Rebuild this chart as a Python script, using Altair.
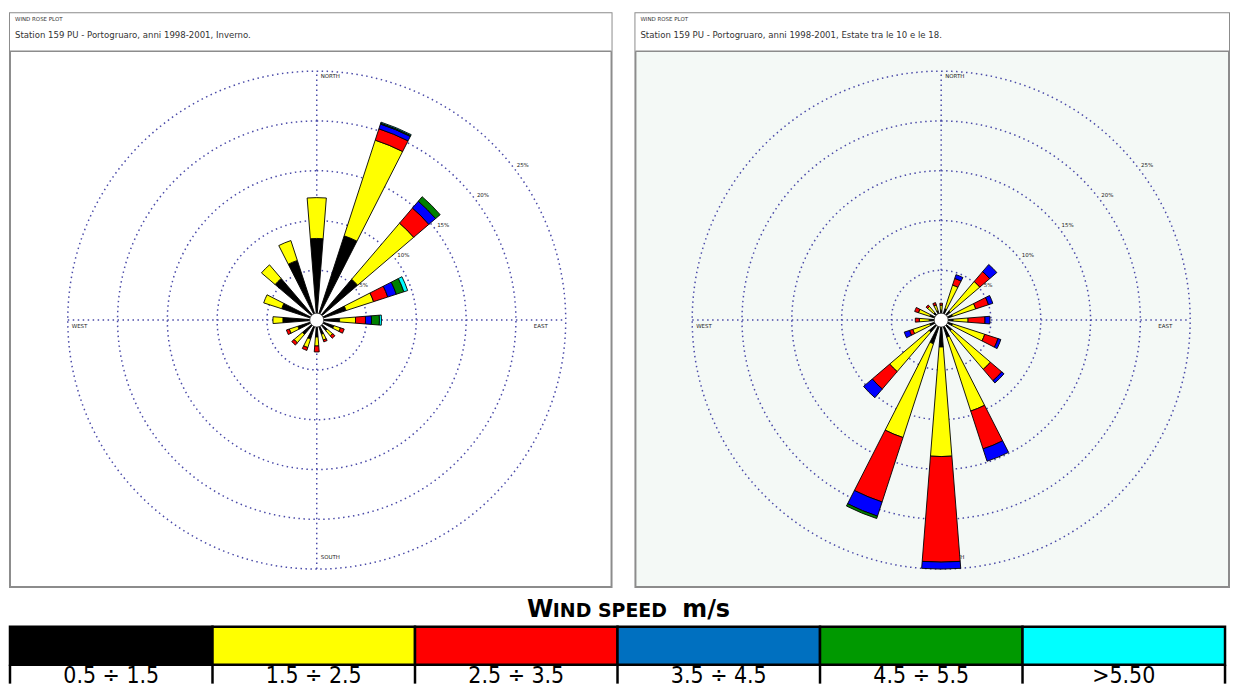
import altair as alt
import pandas as pd

# ---------------------------------------------------------------- data
DIRECTIONS = ["N", "NNE", "NE", "ENE", "E", "ESE", "SE", "SSE",
              "S", "SSW", "SW", "WSW", "W", "WNW", "NW", "NNW"]
SPEED_CLASSES = ["0.5 ÷ 1.5", "1.5 ÷ 2.5", "2.5 ÷ 3.5", "3.5 ÷ 4.5", "4.5 ÷ 5.5", ">5.50"]
ROSE_COLORS = ["#000000", "#FFFF00", "#FF0000", "#0000FF", "#008000", "#00FFFF"]
LEGEND_COLORS = ["#000000", "#FFFF00", "#FF0000", "#0070C0", "#009900", "#00FFFF"]
RING_VALUES = [5, 10, 15, 20, 25]
RING_LABELS = ["5%", "10%", "15%", "20%", "25%"]
COMPASS = ["NORTH", "EAST", "SOUTH", "WEST"]

PLOT_NAME = "WIND ROSE PLOT"
WINTER_TITLE = "Station 159 PU - Portogruaro, anni 1998-2001, Inverno."
SUMMER_TITLE = "Station 159 PU - Portogruaro, anni 1998-2001, Estate tra le 10 e le 18."
LEGEND_TITLE = ["W", "IND SPEED", "m/s"]

# Winter (Inverno): frequency (%) per direction, one list per speed class
winter_05_15 = [8.2, 8.9, 5.4, 3.1, 2.3, 1.8, 1.4, 1.5, 1.7, 2.0, 1.9, 2.0, 3.4, 3.7, 5.5, 6.3]
winter_15_25 = [4.1, 10.1, 7.4, 2.9, 1.6, 0.7, 0.7, 0.6, 0.9, 0.9, 1.1, 0.9, 1.0, 1.9, 1.8, 2.1]
winter_25_35 = [0.0, 1.2, 2.0, 1.5, 1.0, 0.4, 0.3, 0.2, 0.6, 0.3, 0.3, 0.3, 0.0, 0.0, 0.0, 0.0]
winter_35_45 = [0.0, 0.5, 0.9, 0.9, 0.6, 0.0, 0.0, 0.0, 0.0, 0.0, 0.0, 0.0, 0.0, 0.0, 0.0, 0.0]
winter_45_55 = [0.0, 0.1, 0.6, 0.8, 0.8, 0.0, 0.0, 0.0, 0.0, 0.0, 0.0, 0.0, 0.0, 0.0, 0.0, 0.0]
winter_55 = [0.0, 0.1, 0.0, 0.4, 0.2, 0.0, 0.0, 0.0, 0.0, 0.0, 0.0, 0.0, 0.0, 0.0, 0.0, 0.0]

# Summer 10-18 (Estate): frequency (%) per direction, one list per speed class
summer_05_15 = [1.0, 1.2, 1.2, 1.2, 1.2, 1.2, 1.4, 1.8, 2.7, 2.5, 1.6, 1.2, 1.2, 1.2, 1.0, 1.0]
summer_15_25 = [0.5, 2.5, 3.9, 2.45, 1.5, 3.4, 5.1, 7.8, 11.0, 9.9, 5.2, 1.8, 1.0, 1.2, 0.8, 0.6]
summer_25_35 = [0.2, 0.7, 1.3, 1.35, 1.7, 1.4, 1.5, 4.0, 10.6, 6.8, 2.3, 0.35, 0.4, 0.4, 0.2, 0.25]
summer_35_45 = [0.0, 0.4, 0.95, 0.45, 0.5, 0.3, 0.3, 1.3, 0.7, 1.5, 1.15, 0.55, 0.0, 0.0, 0.0, 0.0]
summer_45_55 = [0.0, 0.0, 0.0, 0.0, 0.0, 0.0, 0.0, 0.0, 0.0, 0.25, 0.0, 0.0, 0.0, 0.0, 0.0, 0.0]
summer_55 = [0.0, 0.0, 0.0, 0.0, 0.0, 0.0, 0.0, 0.0, 0.0, 0.0, 0.0, 0.0, 0.0, 0.0, 0.0, 0.0]

WINTER = [winter_05_15, winter_15_25, winter_25_35, winter_35_45, winter_45_55, winter_55]
SUMMER = [summer_05_15, summer_15_25, summer_25_35, summer_35_45, summer_45_55, summer_55]

# ---------------------------------------------------------------- layout / style
PX = 10.0            # pixels per percent
HALF_W = 4.5         # half angular width of a wedge, degrees
CALM_R = 0.7         # radius of the calm circle, percent
TITLE_H = 38
RING_COLOR = "#4a4aa8"
FONT = "DejaVu Sans"

R_MAX = RING_VALUES[-1]
theta_scale = alt.Scale(domain=[0, 360], range=[0, 6.283185307179586])
radius_scale = alt.Scale(type="linear", domain=[0, R_MAX], range=[0, R_MAX * PX], zero=True, nice=False)


def wedge_table(classes):
    rows = []
    for i, d in enumerate(DIRECTIONS):
        ang = i * 360.0 / len(DIRECTIONS)
        start = 0.0
        for cls, vals in zip(SPEED_CLASSES, classes):
            v = vals[i]
            if v <= 0:
                continue
            rows.append({"direction": d, "cls": cls, "t0": ang - HALF_W, "t1": ang + HALF_W,
                         "r0": start, "r1": start + v})
            start += v
    return pd.DataFrame(rows)


def th(field=None, datum=None):
    if datum is not None:
        return alt.Theta(datum=datum, type="quantitative", scale=theta_scale, stack=False)
    return alt.Theta(field, type="quantitative", scale=theta_scale, stack=False)


def rad(field=None, datum=None):
    if datum is not None:
        return alt.Radius(datum=datum, type="quantitative", scale=radius_scale, stack=False)
    return alt.Radius(field, type="quantitative", scale=radius_scale, stack=False)


def panel(classes, title, width, height, cx, cy, bg):
    xs = alt.Scale(domain=[-cx / PX, (width - cx) / PX], nice=False, zero=False)
    ys = alt.Scale(domain=[-(height - cy) / PX, cy / PX], nice=False, zero=False)
    cxe = alt.X(datum=0, type="quantitative", scale=xs, axis=None)
    cye = alt.Y(datum=0, type="quantitative", scale=ys, axis=None)
    one = pd.DataFrame({"k": [0]})

    title_bg = alt.Chart(one).mark_rect(fill="white").encode(
        x=alt.value(0), x2=alt.value(width), y=alt.value(0), y2=alt.value(TITLE_H))
    sep = alt.Chart(one).mark_rule(color="#8c8c8c", strokeWidth=1.5).encode(
        x=alt.value(0), x2=alt.value(width), y=alt.value(TITLE_H))
    t1 = alt.Chart(one).mark_text(text=PLOT_NAME, align="left", baseline="middle",
                                  fontSize=5.5, font=FONT, color="#333").encode(
        x=alt.value(5), y=alt.value(6))
    t2 = alt.Chart(one).mark_text(text=title, align="left", baseline="middle",
                                  fontSize=8.6, font=FONT, color="#333").encode(
        x=alt.value(5), y=alt.value(22))

    rings = alt.Chart(pd.DataFrame({"r": RING_VALUES})).mark_arc(
        fillOpacity=0, stroke=RING_COLOR, strokeWidth=1.5, strokeDash=[1.5, 3.5]).encode(
        theta=th(datum=0), theta2=alt.Theta2(datum=360), radius=rad("r"), x=cxe, y=cye)

    cross_df = pd.DataFrame({"x": [-R_MAX, 0], "x2": [R_MAX, 0], "y": [0, -R_MAX], "y2": [0, R_MAX]})
    cross = alt.Chart(cross_df).mark_rule(color=RING_COLOR, strokeWidth=1.5, strokeDash=[1.5, 3.5]).encode(
        x=alt.X("x:Q", scale=xs, axis=None), x2="x2:Q",
        y=alt.Y("y:Q", scale=ys, axis=None), y2="y2:Q")

    wedges = alt.Chart(wedge_table(classes)).mark_arc(stroke="black", strokeWidth=0.9).encode(
        theta=th("t0"), theta2="t1:Q", radius=rad("r1"), radius2="r0:Q",
        color=alt.Color("cls:N", scale=alt.Scale(domain=SPEED_CLASSES, range=ROSE_COLORS), legend=None),
        x=cxe, y=cye)

    calm = alt.Chart(one).mark_arc(fill="white", stroke="#222", strokeWidth=0.7).encode(
        theta=th(datum=0), theta2=alt.Theta2(datum=360), radius=rad(datum=CALM_R), x=cxe, y=cye)

    lab_df = pd.DataFrame({"label": RING_LABELS, "rl": [r + 0.9 for r in RING_VALUES],
                           "a": [53] * len(RING_VALUES)})
    ring_labels = alt.Chart(lab_df).mark_text(fontSize=5.5, font=FONT, color="#222").encode(
        theta=th("a"), radius=rad("rl"), text="label:N", x=cxe, y=cye)

    comp_df = pd.DataFrame({
        "label": COMPASS,
        "x": [0.4, R_MAX - 3.2, 0.4, -R_MAX + 0.4],
        "y": [R_MAX - 0.5, -0.6, -R_MAX + 1.2, -0.6],
    })
    compass = alt.Chart(comp_df).mark_text(fontSize=5.5, font=FONT, color="#222",
                                           align="left", baseline="middle").encode(
        x=alt.X("x:Q", scale=xs, axis=None), y=alt.Y("y:Q", scale=ys, axis=None), text="label:N")

    return alt.layer(title_bg, rings, cross, compass, ring_labels, wedges, calm, sep, t1, t2).properties(
        width=width, height=height,
        view=alt.ViewBackground(fill=bg, stroke="#8c8c8c", strokeWidth=2))


left = panel(WINTER, WINTER_TITLE, 604, 576, 308, 308, "white")
right = panel(SUMMER, SUMMER_TITLE, 596, 576, 307, 308, "#F4F9F6")

# ---------------------------------------------------------------- legend table
LEG_W = 1220
LEG_H = 92
ROW_TOP = 35
ROW_MID = 73
leg_df = pd.DataFrame({"cls": SPEED_CLASSES})
band = alt.Scale(domain=SPEED_CLASSES, paddingInner=0, paddingOuter=0)
bx = alt.X("cls:N", scale=band, axis=None)

cells = alt.Chart(leg_df).mark_rect(fill="white").encode(
    x=bx, y=alt.value(ROW_MID), y2=alt.value(LEG_H))
seps = alt.Chart(leg_df).mark_rule(color="black", strokeWidth=2.5).encode(
    x=alt.X("cls:N", scale=band, axis=None, bandPosition=0),
    y=alt.value(ROW_MID), y2=alt.value(LEG_H))
edge = alt.Chart(pd.DataFrame({"k": [0]})).mark_rule(color="black", strokeWidth=2.5).encode(
    x=alt.value(LEG_W), y=alt.value(ROW_MID), y2=alt.value(LEG_H))
swatch = alt.Chart(leg_df).mark_rect(stroke="black", strokeWidth=2.5).encode(
    x=bx, y=alt.value(ROW_TOP), y2=alt.value(ROW_MID),
    fill=alt.Fill("cls:N", scale=alt.Scale(domain=SPEED_CLASSES, range=LEGEND_COLORS), legend=None))
labels = alt.Chart(leg_df).mark_text(fontSize=23, font="DejaVu Sans Condensed, DejaVu Sans",
                                     baseline="alphabetic", color="black").encode(
    x=bx, y=alt.value(91), text="cls:N")

one = pd.DataFrame({"k": [0]})
title_w = alt.Chart(one).mark_text(text=LEGEND_TITLE[0], align="left", baseline="alphabetic",
                                   fontSize=24, fontWeight="bold", font=FONT).encode(
    x=alt.value(519), y=alt.value(25))
title_caps = alt.Chart(one).mark_text(text=LEGEND_TITLE[1], align="left", baseline="alphabetic",
                                      fontSize=19, fontWeight="bold", font=FONT).encode(
    x=alt.value(545), y=alt.value(25))
title_unit = alt.Chart(one).mark_text(text=LEGEND_TITLE[2], align="left", baseline="alphabetic",
                                      fontSize=24, fontWeight="bold", font=FONT).encode(
    x=alt.value(675), y=alt.value(25))

legend = alt.layer(cells, seps, edge, swatch, labels, title_w, title_caps, title_unit).properties(
    width=LEG_W, height=LEG_H, view=alt.ViewBackground(strokeWidth=0))

chart = alt.vconcat(
    alt.hconcat(left, right, spacing=20),
    legend,
    spacing=4,
).properties(
    padding={"top": 3, "left": 0, "right": 0, "bottom": 0},
).configure(background="white")

chart.save("out.html", embed_options={"renderer": "svg", "actions": False})
